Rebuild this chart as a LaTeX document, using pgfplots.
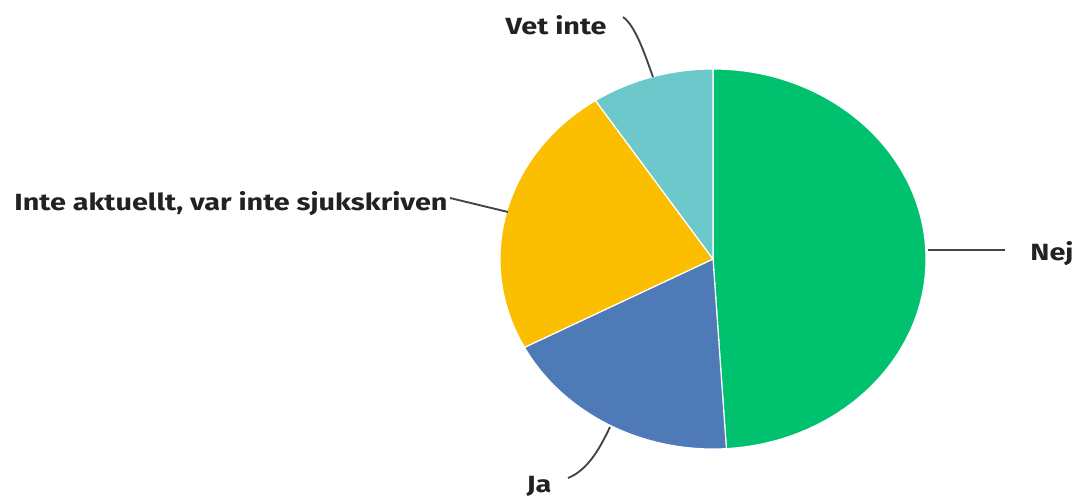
\documentclass[border=0pt]{standalone}
\usepackage{pgfplots}
\pgfplotsset{compat=1.18}
\usepackage{pgfplotstable}
\usepackage{fontspec}
\setmainfont{Fira Sans}
\newfontfamily\labfont{Fira Sans}[FakeStretch=1.23]
\definecolor{pie0}{HTML}{00C26E}
\definecolor{pie1}{HTML}{4F7AB8}
\definecolor{pie2}{HTML}{FCBE00}
\definecolor{pie3}{HTML}{6CC8CB}
\definecolor{txt}{HTML}{222222}
\definecolor{lead}{HTML}{444444}

\pgfplotstableread{
label value
Nej 49.0
Ja 18.3
Inte 23.4
Vet 9.3
}\piedata

\begin{document}
\begin{tikzpicture}
\begin{axis}[
  x=0.015cm, y=0.015cm,
  xmin=0, xmax=1078, ymin=0, ymax=498,
  hide axis, clip=false,
]
\addplot[draw=none] coordinates {(0,0) (1078,498)};
\pgfmathsetmacro{\cum}{90}
\pgfplotsforeachungrouped \i in {0,...,3}{%
  \pgfplotstablegetelem{\i}{value}\of\piedata
  \pgfmathsetmacro{\a}{\cum}%
  \pgfmathsetmacro{\b}{\cum-3.6*\pgfplotsretval}%
  \edef\temp{\noexpand\fill[fill=pie\i, draw=white, line width=0.5pt, line join=round]
    (axis cs:713,239) -- ++(\a:3.195cm and 2.85cm)
    arc[start angle=\a, end angle=\b, x radius=3.195cm, y radius=2.85cm] -- cycle;}%
  \temp
  \global\let\cum\b
}
% leader lines
\draw[lead, line width=0.8pt] (axis cs:623,481) .. controls (axis cs:636,472) and (axis cs:646,440) .. (axis cs:653,421);
\draw[lead, line width=0.8pt] (axis cs:450,300) -- (axis cs:508,286);
\draw[lead, line width=0.8pt] (axis cs:928,248) -- (axis cs:1005,248);
\draw[lead, line width=0.8pt] (axis cs:568,20) .. controls (axis cs:588,28) and (axis cs:600,50) .. (axis cs:610,71);
% labels
\tikzset{lab/.style={text=txt, font=\labfont\bfseries\fontsize{10}{12}\selectfont, inner sep=0pt}}
\node[lab, anchor=east] at (axis cs:607,473) {Vet inte};
\node[lab, anchor=east] at (axis cs:448,294.5) {Inte aktuellt, var inte sjukskriven};
\node[lab, anchor=west] at (axis cs:1030,244) {Nej};
\node[lab, anchor=east] at (axis cs:552,11.5) {Ja};
\end{axis}
\end{tikzpicture}
\end{document}
